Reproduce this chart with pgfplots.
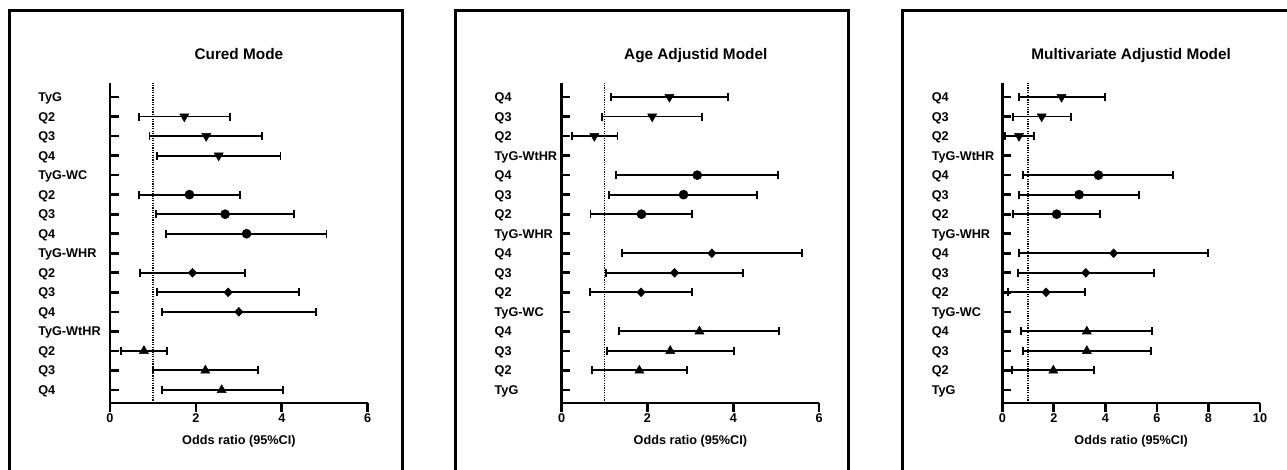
\documentclass[border=0pt]{standalone}
\usepackage{fontspec}
\setmainfont{Liberation Sans}
\usepackage{pgfplots}
\pgfplotsset{compat=1.18}

\pgfplotsset{
  forest/.style={
    scale only axis, height=240pt, anchor=south west,
    axis lines*=left, axis line style={line width=2pt, -},
    xmin=0, ymin=0.334, ymax=16.717,
    ytick={1,...,16}, ytick align=inside, xtick align=outside,
    major tick length=6.5pt,
    tick style={line width=2pt, black},
    /pgf/number format/assume math mode=true,
    tick label style={font=\fontsize{9.5}{11}\selectfont\bfseries},
    yticklabel style={anchor=base west, inner sep=0pt, yshift=-3.4pt},
    xticklabel style={anchor=base, inner sep=0pt, yshift=-8.1pt},
    xlabel={Odds ratio (95\%CI)},
    xlabel style={at={(axis description cs:0.5,0)}, anchor=base, yshift=-31.5pt,
      font=\fontsize{9.5}{11}\selectfont\bfseries},
    title style={at={(axis description cs:0.5,1)}, anchor=base, yshift=11.8pt,
      font=\fontsize{11.5}{13}\selectfont\bfseries},
    clip=false,
    table/x=or, table/y=row,
    table/x error plus expr=\thisrow{hi}-\thisrow{or},
    table/x error minus expr=\thisrow{or}-\thisrow{lo},
  },
  or/.style={black, only marks,
    error bars/x dir=both, error bars/x explicit,
    error bars/error mark=|,
    error bars/error bar style={line width=1.45pt},
    error bars/error mark options={line width=1.45pt, mark size=3pt}},
  down/.style={mark=triangle*, mark size=3.9pt, mark options={rotate=180}},
  up/.style={mark=triangle*, mark size=3.9pt},
  dot/.style={mark=*, mark size=3.4pt},
  dia/.style={mark=diamond*, mark size=3.3pt, mark options={xscale=1.25}},
  ref/.style={black, line width=1pt, dash pattern=on 0.9pt off 0.9pt},
}

\begin{document}
\begin{tikzpicture}
\clip (0,0) rectangle (965.25pt,352.5pt);
% panel frames (open at the bottom)
\draw[line width=2.25pt] (6.75pt,-5pt) -- (6.75pt,344.25pt) -- (301.5pt,344.25pt) -- (301.5pt,-5pt);
\draw[line width=2.25pt] (341.25pt,-5pt) -- (341.25pt,344.25pt) -- (636pt,344.25pt) -- (636pt,-5pt);
\draw[line width=2.25pt] (676.5pt,-5pt) -- (676.5pt,344.25pt) -- (980pt,344.25pt);

% ---- Cured Mode
\begin{axis}[forest, at={(82.5pt,50.25pt)}, width=193.3pt,
  xmax=6, xtick={0,2,4,6},
  title={Cured Mode},
  yticklabel style={xshift=-54pt},
  yticklabels={Q4,Q3,Q2,TyG-WtHR,Q4,Q3,Q2,TyG-WHR,Q4,Q3,Q2,TyG-WC,Q4,Q3,Q2,TyG}]
\addplot[ref] coordinates {(1,0.334) (1,16.717)};
\addplot[or, down] table {
row or lo hi
15 1.73 0.68 2.79
14 2.24 0.92 3.53
13 2.53 1.09 3.97
};
\addplot[or, dot] table {
row or lo hi
11 1.85 0.67 3.03
10 2.68 1.06 4.28
9 3.18 1.30 5.04
};
\addplot[or, dia] table {
row or lo hi
7 1.92 0.70 3.15
6 2.75 1.09 4.41
5 3.00 1.22 4.80
};
\addplot[or, up] table {
row or lo hi
3 0.79 0.25 1.33
2 2.22 1.01 3.44
1 2.60 1.22 4.02
};
\end{axis}

% ---- Age Adjustid Model
\begin{axis}[forest, at={(421.3pt,50.25pt)}, width=193pt,
  xmax=6, xtick={0,2,4,6},
  title={Age Adjustid Model}, title style={xshift=4pt},
  yticklabel style={xshift=-50.5pt},
  yticklabels={TyG,Q2,Q3,Q4,TyG-WC,Q2,Q3,Q4,TyG-WHR,Q2,Q3,Q4,TyG-WtHR,Q2,Q3,Q4}]
\addplot[ref] coordinates {(1,0.334) (1,16.717)};
\addplot[or, down] table {
row or lo hi
16 2.51 1.14 3.88
15 2.11 0.93 3.28
14 0.76 0.23 1.30
};
\addplot[or, dot] table {
row or lo hi
12 3.16 1.27 5.05
11 2.84 1.11 4.55
10 1.86 0.67 3.03
};
\addplot[or, dia] table {
row or lo hi
8 3.50 1.41 5.61
7 2.63 1.03 4.23
6 1.85 0.66 3.03
};
\addplot[or, up] table {
row or lo hi
4 3.21 1.34 5.07
3 2.53 1.05 4.01
2 1.81 0.70 2.92
};
\end{axis}

% ---- Multivariate Adjustid Model
\begin{axis}[forest, at={(751.7pt,50.25pt)}, width=193.3pt,
  xmax=10, xtick={0,2,4,6,8,10},
  title={Multivariate Adjustid Model},
  yticklabel style={xshift=-53pt},
  yticklabels={TyG,Q2,Q3,Q4,TyG-WC,Q2,Q3,Q4,TyG-WHR,Q2,Q3,Q4,TyG-WtHR,Q2,Q3,Q4}]
\addplot[ref] coordinates {(1,0.334) (1,16.717)};
\addplot[or, down] table {
row or lo hi
16 2.30 0.65 3.99
15 1.53 0.40 2.67
14 0.65 0.10 1.22
};
\addplot[or, dot] table {
row or lo hi
12 3.73 0.79 6.64
11 2.98 0.66 5.30
10 2.11 0.40 3.78
};
\addplot[or, dia] table {
row or lo hi
8 4.32 0.66 7.99
7 3.24 0.60 5.90
6 1.70 0.23 3.20
};
\addplot[or, up] table {
row or lo hi
4 3.28 0.73 5.81
3 3.28 0.79 5.77
2 1.98 0.39 3.56
};
\end{axis}
\end{tikzpicture}
\end{document}
